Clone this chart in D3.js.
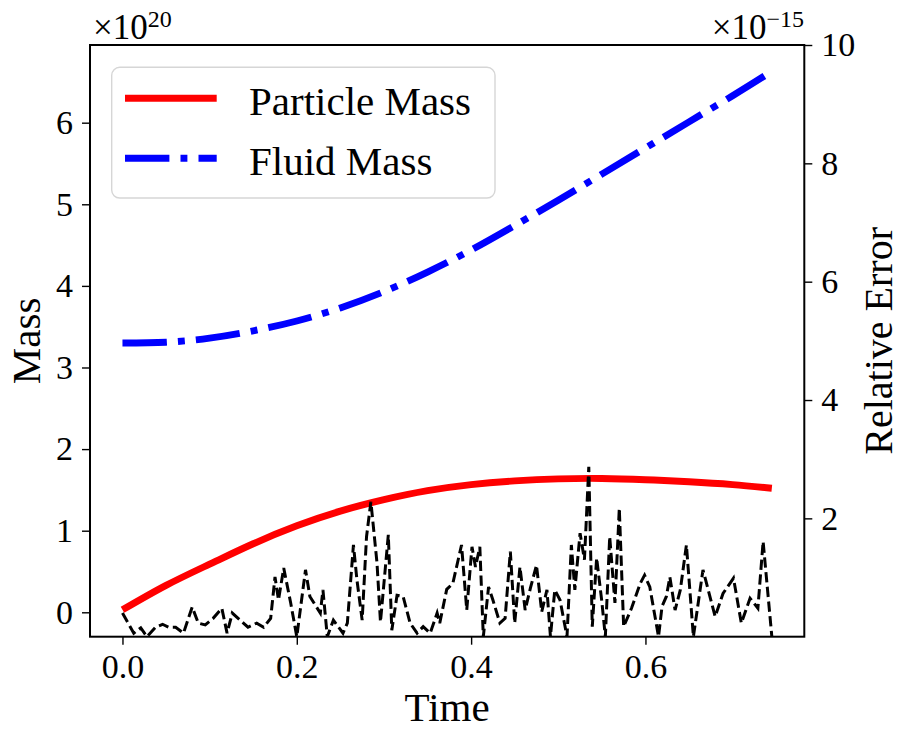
<html>
<head>
<meta charset="utf-8">
<script src="https://d3js.org/d3.v7.min.js"></script>
<style>
  body { margin: 0; background: #fff; }
  text { font-family: "Liberation Serif", "Times New Roman", serif; fill: #000; }
</style>
</head>
<body>
<svg id="chart"></svg>
<script>
// particle / fluid mass (x 1e20)
var massT = [0, 0.05, 0.10, 0.15, 0.20, 0.25, 0.30, 0.35, 0.40, 0.45, 0.50, 0.55, 0.60, 0.65, 0.70, 0.745];
var particleMass = [0.03, 0.33, 0.59, 0.84, 1.06, 1.24, 1.38, 1.49, 1.565, 1.61, 1.635, 1.64, 1.625, 1.60, 1.565, 1.52];
var fluidMass = [3.30, 3.31, 3.36, 3.45, 3.57, 3.73, 3.93, 4.17, 4.44, 4.74, 5.05, 5.37, 5.69, 6.01, 6.33, 6.63];

// relative error (x 1e-15)
var errT = [0.000, 0.013, 0.021, 0.028, 0.038, 0.046, 0.053, 0.061, 0.070, 0.080, 0.087, 0.095, 0.104, 0.114,
  0.120, 0.126, 0.135, 0.144, 0.154, 0.162, 0.170, 0.175, 0.179, 0.185, 0.193, 0.200, 0.210, 0.215, 0.227,
  0.230, 0.235, 0.242, 0.253, 0.258, 0.265, 0.269, 0.275, 0.280, 0.285, 0.292, 0.296, 0.305, 0.309, 0.315,
  0.322, 0.330, 0.338, 0.345, 0.353, 0.361, 0.364, 0.372, 0.379, 0.389, 0.395, 0.401, 0.405, 0.410, 0.414,
  0.420, 0.425, 0.433, 0.439, 0.445, 0.450, 0.456, 0.462, 0.468, 0.475, 0.481, 0.487, 0.491, 0.496, 0.502,
  0.510, 0.515, 0.519, 0.525, 0.530, 0.535, 0.539, 0.544, 0.550, 0.554, 0.559, 0.565, 0.570, 0.575, 0.584,
  0.594, 0.599, 0.605, 0.615, 0.619, 0.624, 0.628, 0.634, 0.640, 0.647, 0.655, 0.666, 0.680, 0.689, 0.701,
  0.710, 0.720, 0.729, 0.735, 0.745];
var errV = [0.40, 0.06, 0.15, 0.00, 0.16, 0.21, 0.16, 0.16, 0.06, 0.50, 0.23, 0.20, 0.31, 0.48,
  0.06, 0.40, 0.28, 0.16, 0.23, 0.16, 0.31, 1.01, 0.62, 1.16, 0.57, 0.00, 1.13, 0.68, 0.40,
  0.79, 0.00, 0.28, 0.06, 0.23, 1.55, 0.96, 0.28, 1.69, 2.28, 1.25, 0.25, 1.72, 0.11, 0.70,
  0.68, 0.23, 0.06, 0.17, 0.06, 0.40, 0.23, 0.80, 0.90, 1.55, 0.45, 1.52, 1.18, 1.52, 0.00,
  0.84, 0.62, 0.23, 0.31, 1.44, 0.23, 1.18, 0.45, 0.82, 1.21, 0.42, 0.79, 0.00, 0.79, 0.62,
  0.00, 1.55, 0.79, 1.75, 1.30, 2.87, 0.17, 1.33, 0.59, 0.00, 1.69, 0.57, 2.17, 0.17, 0.48,
  0.90, 1.04, 0.84, 0.00, 0.51, 0.68, 1.01, 0.45, 0.79, 1.55, 0.00, 1.13, 0.34, 0.73, 0.99,
  0.23, 0.65, 0.48, 1.61, 0.00];

var xTicks = [0.0, 0.2, 0.4, 0.6];
var leftTicks = [0, 1, 2, 3, 4, 5, 6];
var rightTicks = [2, 4, 6, 8, 10];

var W = 901, H = 731;
var m = {left: 90, right: 96.7, top: 45, bottom: 94.3};
var iw = W - m.left - m.right, ih = H - m.top - m.bottom;

var svg = d3.select("#chart").attr("width", W).attr("height", H);
var g = svg.append("g").attr("transform", "translate(" + m.left + "," + m.top + ")");

var x = d3.scaleLinear().domain([-0.03725, 0.78225]).range([0, iw]);
var yL = d3.scaleLinear().domain([-0.299, 6.952]).range([ih, 0]);
var yR = d3.scaleLinear().domain([0.0, 10]).range([ih, 0]);

svg.append("defs").append("clipPath").attr("id", "clip")
  .append("rect").attr("width", iw).attr("height", ih);

// mass lines
var massData = massT.map(function(t, i) { return {t: t, p: particleMass[i], f: fluidMass[i]}; });
var lineP = d3.line().x(function(d) { return x(d.t); }).y(function(d) { return yL(d.p); }).curve(d3.curveNatural);
var lineF = d3.line().x(function(d) { return x(d.t); }).y(function(d) { return yL(d.f); }).curve(d3.curveNatural);

g.append("path").datum(massData).attr("d", lineP)
  .attr("fill", "none").attr("stroke", "#ff0000").attr("stroke-width", 6.9);
g.append("path").datum(massData).attr("d", lineF)
  .attr("fill", "none").attr("stroke", "#0000ff").attr("stroke-width", 6.9)
  .attr("stroke-dasharray", "44.4,11.1,6.9,11.1");

// legend
var lg = g.append("g").attr("transform", "translate(" + (111.7 - m.left) + "," + (67.3 - m.top) + ")");
lg.append("rect").attr("width", 383.3).attr("height", 130.7).attr("rx", 8).attr("ry", 8)
  .attr("fill", "rgba(255,255,255,0.8)").attr("stroke", "#d6d6d6").attr("stroke-width", 1.4);
var legendItems = [
  {label: "Particle Mass", color: "#ff0000", dash: null, y: 31},
  {label: "Fluid Mass", color: "#0000ff", dash: "44.4,11.1,6.9,11.1", y: 91}
];
legendItems.forEach(function(it) {
  var l = lg.append("line").attr("x1", 13.3).attr("x2", 105).attr("y1", it.y).attr("y2", it.y)
    .attr("stroke", it.color).attr("stroke-width", 6.9);
  if (it.dash) l.attr("stroke-dasharray", it.dash);
  lg.append("text").attr("x", 137.3).attr("y", it.y + 16.5)
    .style("font-size", "41px").text(it.label);
});

// relative error, right axis (drawn on top)
var errData = errT.map(function(t, i) { return {t: t, v: errV[i]}; });
var lineE = d3.line().x(function(d) { return x(d.t); }).y(function(d) { return yR(d.v); });
g.append("path").datum(errData).attr("d", lineE).attr("clip-path", "url(#clip)")
  .attr("fill", "none").attr("stroke", "#000").attr("stroke-width", 3)
  .attr("stroke-dasharray", "10.3,4.5");

// axes
function styleAxis(sel) {
  sel.select(".domain").remove();
  sel.selectAll(".tick line").attr("stroke", "#000").attr("stroke-width", 1.4);
  sel.selectAll(".tick text").style("font-size", "34px")
    .style("font-family", "'Liberation Serif', 'Times New Roman', serif");
}
g.append("g").attr("transform", "translate(0," + ih + ")")
  .call(d3.axisBottom(x).tickValues(xTicks).tickFormat(d3.format(".1f")).tickSize(8).tickPadding(9))
  .call(styleAxis);
g.append("g")
  .call(d3.axisLeft(yL).tickValues(leftTicks).tickFormat(d3.format("d")).tickSize(8).tickPadding(9))
  .call(styleAxis);
g.append("g").attr("transform", "translate(" + iw + ",0)")
  .call(d3.axisRight(yR).tickValues(rightTicks).tickFormat(d3.format("d")).tickSize(8).tickPadding(9))
  .call(styleAxis);

g.append("rect").attr("width", iw).attr("height", ih)
  .attr("fill", "none").attr("stroke", "#000").attr("stroke-width", 2);

// offset texts
var o1 = svg.append("text").attr("x", 93).attr("y", 39).style("font-size", "35px");
o1.append("tspan").text("\u00d710");
o1.append("tspan").attr("dy", -12).style("font-size", "24px").text("20");
var o2 = svg.append("text").attr("x", 804).attr("y", 39).attr("text-anchor", "end").style("font-size", "35px");
o2.append("tspan").text("\u00d710");
o2.append("tspan").attr("dy", -12).style("font-size", "24px").text("\u221215");

// axis labels
svg.append("text").attr("x", m.left + iw / 2).attr("y", 720.7).attr("text-anchor", "middle")
  .style("font-size", "41px").text("Time");
svg.append("text").attr("transform", "translate(40," + (m.top + ih / 2) + ") rotate(-90)")
  .attr("text-anchor", "middle").style("font-size", "41px").text("Mass");
svg.append("text").attr("transform", "translate(892," + (m.top + ih / 2) + ") rotate(-90)")
  .attr("text-anchor", "middle").style("font-size", "40px").text("Relative Error");
</script>
</body>
</html>
